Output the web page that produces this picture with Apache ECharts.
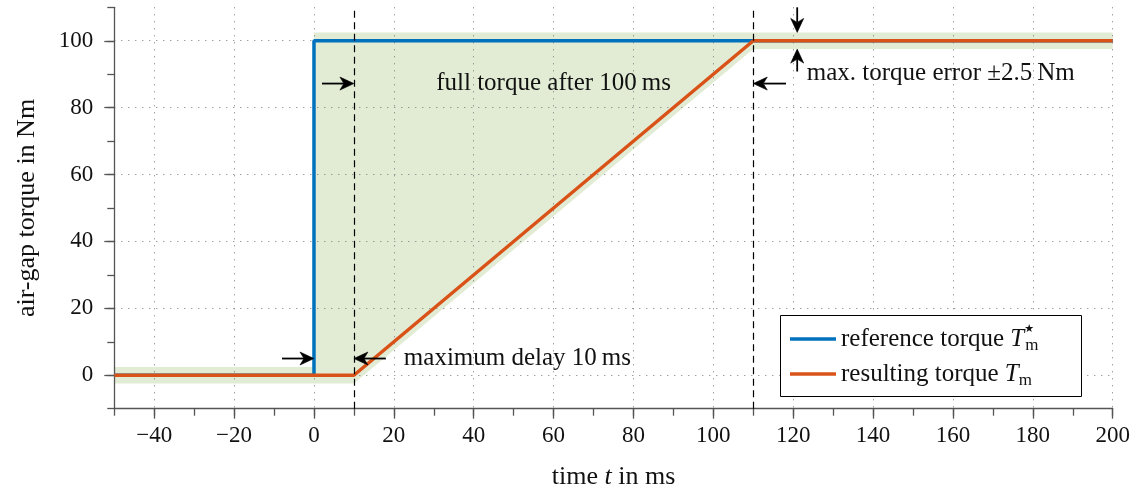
<!DOCTYPE html>
<html>
<head>
<meta charset="utf-8">
<script src="https://cdn.jsdelivr.net/npm/echarts@6/dist/echarts.min.js"></script>
<style>
  html, body { margin: 0; padding: 0; background: #fff; }
  #chart { width: 1139px; height: 490px; }
</style>
</head>
<body>
<div id="chart"></div>
<script>
// Reference torque: step to 100 Nm at t = 0
const refTime = [-50, 0, 0, 200];
const refTorque = [0, 0, 100, 100];
// Resulting torque: 10 ms delay, then linear ramp reaching 100 Nm at 110 ms
const resTime = [-50, 10, 110, 200];
const resTorque = [0, 0, 100, 100];
// Admissible region (±2.5 Nm tolerance around the envelope)
const bandTime = [-50, 0, 0, 10, 110, 200];
const bandUpper = [2.5, 2.5, 102.5, 102.5, 102.5, 102.5];
const bandLower = [-2.5, -2.5, -2.5, -2.5, 97.5, 97.5];
// Vertical marker lines (end of delay, full torque reached)
const markerTimes = [10, 110];
// Tick labels
const xTicks = [-40, -20, 0, 20, 40, 60, 80, 100, 120, 140, 160, 180, 200];
const yTicks = [0, 20, 40, 60, 80, 100];
// Dimension arrows: [t from, torque from, t to, torque to]
const arrows = [
  [2, 87.2, 10, 87.2],
  [118.2, 87.2, 110, 87.2],
  [-8, 5, 0, 5],
  [18, 5, 10, 5],
  [121, 110, 121, 102.5],
  [121, 90.8, 121, 97.5]
];

const FONT = 'Liberation Serif';
const AXIS_COLOR = '#555';
const GRID_DOT = { type: [1, 6], color: '#777', width: 1 };

const chart = echarts.init(document.getElementById('chart'), null, { renderer: 'canvas' });

const zip = (a, b) => a.map((v, i) => [v, b[i]]);

// polygon of the tolerance band: upper edge forward, lower edge backward
const bandPolygon = zip(bandTime, bandUpper).concat(zip(bandTime, bandLower).reverse());

const minusFmt = v => (v < 0 ? '\u2212' + Math.abs(v) : String(v));

// straight arrow with a stealth head whose tip sits on the end point
function renderArrow(params, api) {
  const a = api.coord([api.value(0), api.value(1)]);
  const b = api.coord([api.value(2), api.value(3)]);
  const dx = b[0] - a[0], dy = b[1] - a[1];
  const len = Math.hypot(dx, dy) || 1;
  const ux = dx / len, uy = dy / len;
  const nx = -uy, ny = ux;
  const L = 14, W = 6.5, notch = 10;
  const back = [b[0] - L * ux, b[1] - L * uy];
  return {
    type: 'group',
    children: [
      {
        type: 'line',
        shape: { x1: a[0], y1: a[1], x2: b[0] - notch * ux, y2: b[1] - notch * uy },
        style: { stroke: '#000', lineWidth: 1.8 }
      },
      {
        type: 'polygon',
        shape: {
          points: [
            b,
            [back[0] + W * nx, back[1] + W * ny],
            [b[0] - notch * ux, b[1] - notch * uy],
            [back[0] - W * nx, back[1] - W * ny]
          ]
        },
        style: { fill: '#000', stroke: '#000', lineWidth: 0.6 }
      }
    ]
  };
}

const option = {
  animation: false,
  grid: { left: 114.3, top: 7.3, width: 998.4, height: 401.4, containLabel: false, outerBoundsMode: 'none' },
  xAxis: [
    {
      type: 'value', min: -50, max: 200, interval: 10, position: 'bottom',
      axisLine: { show: true, onZero: false, lineStyle: { color: AXIS_COLOR, width: 1.3 } },
      axisTick: { show: true, customValues: xTicks, length: 10, lineStyle: { color: AXIS_COLOR, width: 1.3 } },
      axisLabel: { customValues: xTicks, formatter: minusFmt, fontFamily: FONT, fontSize: 23, color: '#111', margin: 16 },
      splitLine: { show: true, lineStyle: GRID_DOT },
      name: 'time {it|t} in ms', nameLocation: 'middle', nameGap: 55,
      nameTextStyle: { fontFamily: FONT, fontSize: 26, color: '#111', rich: { it: { fontFamily: FONT, fontSize: 26, fontStyle: 'italic', color: '#111' } } }
    },
    {
      type: 'value', min: -50, max: 200, interval: 10, position: 'bottom',
      axisLine: { show: false, onZero: false },
      axisTick: { show: true, length: 7, lineStyle: { color: AXIS_COLOR, width: 1.3 } },
      axisLabel: { show: false }, splitLine: { show: false }
    }
  ],
  yAxis: [
    {
      type: 'value', min: -10, max: 110, interval: 10, position: 'left',
      axisLine: { show: true, onZero: false, lineStyle: { color: AXIS_COLOR, width: 1.3 } },
      axisTick: { show: true, customValues: yTicks, length: 10, lineStyle: { color: AXIS_COLOR, width: 1.3 } },
      axisLabel: { customValues: yTicks, fontFamily: FONT, fontSize: 23, color: '#111', margin: 21 },
      splitLine: { show: true, lineStyle: GRID_DOT },
      name: 'air-gap torque in Nm', nameLocation: 'middle', nameGap: 74,
      nameTextStyle: { fontFamily: FONT, fontSize: 26, color: '#111' }
    },
    {
      type: 'value', min: -10, max: 110, interval: 10, position: 'left',
      axisLine: { show: false, onZero: false },
      axisTick: { show: true, length: 7, lineStyle: { color: AXIS_COLOR, width: 1.3 } },
      axisLabel: { show: false }, splitLine: { show: false }
    }
  ],
  legend: {
    data: ['reference torque', 'resulting torque'],
    orient: 'vertical', left: 790, top: 324, padding: 0,
    icon: 'rect', itemWidth: 46, itemHeight: 3.5, itemGap: 5, z: 20,
    formatter: name => name === 'reference torque'
      ? 'reference torque {it|T}{sup|\u2605}{sub|m}'
      : 'resulting torque {it|T}{sub|m}',
    textStyle: {
      fontFamily: FONT, fontSize: 25, color: '#111', lineHeight: 30,
      rich: {
        it: { fontFamily: FONT, fontSize: 25, fontStyle: 'italic', color: '#111', lineHeight: 30 },
        sup: { fontFamily: 'DejaVu Sans', fontSize: 11, color: '#111', width: 1, lineHeight: 16, verticalAlign: 'top' },
        sub: { fontFamily: FONT, fontSize: 17, color: '#111', lineHeight: 18, verticalAlign: 'bottom' }
      }
    }
  },
  series: [
    {
      name: 'tolerance', type: 'custom', z: -1, silent: true,
      data: [0],
      renderItem: (params, api) => ({
        type: 'polygon',
        shape: { points: bandPolygon.map(p => api.coord(p)) },
        style: { fill: '#e2ecd5', stroke: null }
      })
    },
    {
      name: 'reference torque', type: 'line', data: zip(refTime, refTorque),
      symbol: 'none', z: 3, lineStyle: { color: '#0072bd', width: 3.5 }, itemStyle: { color: '#0072bd' }
    },
    {
      name: 'resulting torque', type: 'line', data: zip(resTime, resTorque),
      symbol: 'none', z: 4, lineStyle: { color: '#d95319', width: 3.5 }, itemStyle: { color: '#d95319' },
      markLine: {
        silent: true, symbol: 'none', label: { show: false },
        lineStyle: { color: '#000', type: [7, 4.5], width: 1.2 },
        data: markerTimes.map(t => ({ xAxis: t }))
      }
    },
    {
      name: 'dimensions', type: 'custom', z: 6, silent: true, clip: false,
      encode: { x: [0, 2], y: [1, 3] },
      data: arrows,
      renderItem: renderArrow
    }
  ]
};

chart.setOption(option);

// annotation texts and legend frame, anchored to data coordinates
const px = (t, v) => chart.convertToPixel({ xAxisIndex: 0, yAxisIndex: 0 }, [t, v]);
const txt = { fontFamily: FONT, fontSize: 25, fill: '#111' };
const pFull = px(60, 87.2);
const pDelay = px(22.5, 5.0);
const pErr = px(123.4, 90.2);

chart.setOption({
  graphic: [
    {
      type: 'rect', z: 10, silent: true,
      shape: { x: 780.5, y: 315.5, width: 301, height: 81 },
      style: { fill: '#fff', stroke: '#000', lineWidth: 1 }
    },
    {
      type: 'text', z: 10, x: pFull[0], y: pFull[1], silent: true,
      style: Object.assign({ text: 'full torque after 100\u2009ms', align: 'center', verticalAlign: 'middle' }, txt)
    },
    {
      type: 'text', z: 10, x: pDelay[0], y: pDelay[1], silent: true,
      style: Object.assign({ text: 'maximum delay 10\u2009ms', align: 'left', verticalAlign: 'middle' }, txt)
    },
    {
      type: 'text', z: 10, x: pErr[0], y: pErr[1], silent: true,
      style: Object.assign({ text: 'max. torque error \u00b12.5\u2009Nm', align: 'left', verticalAlign: 'middle' }, txt)
    }
  ]
});
</script>
</body>
</html>
